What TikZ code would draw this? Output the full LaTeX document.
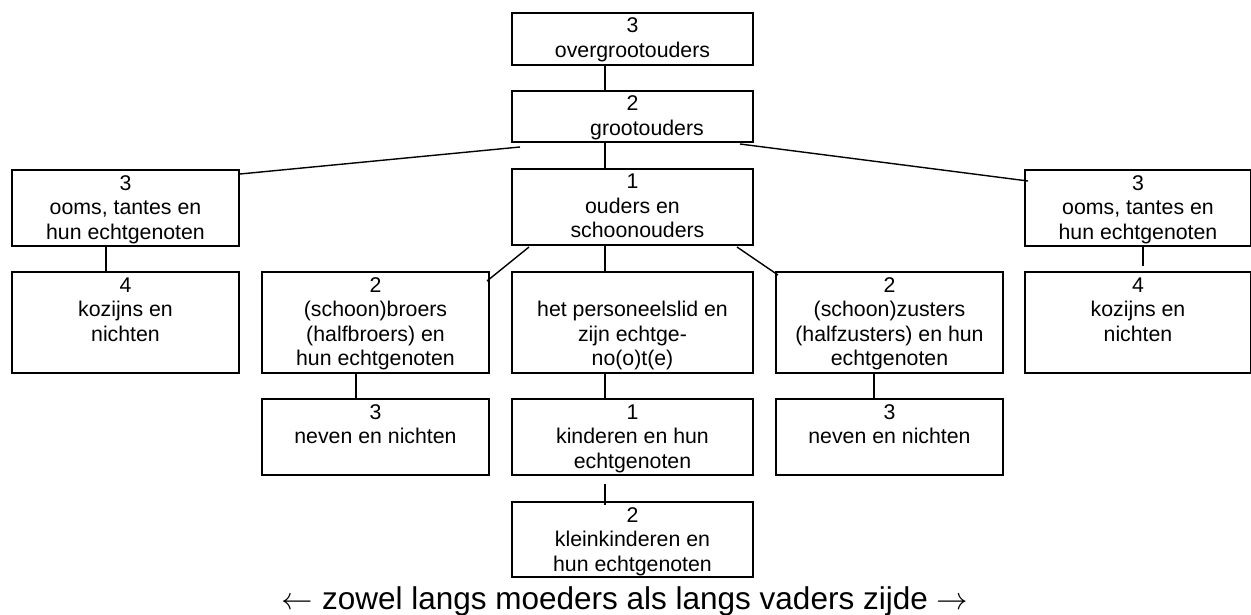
\RequirePackage{fix-cm}
\documentclass[tikz,border=0pt]{standalone}
\usepackage{fontspec}
\setmainfont{Liberation Sans}
\usetikzlibrary{calc}
\newcommand{\bxt}[3]{\parbox[c][#2][t]{#1}{\centering\rule{0pt}{20pt}#3\par}}
\tikzset{
  box/.style={draw, line width=2pt, inner sep=0pt, anchor=north west,
              font=\fontsize{21.3pt}{24.5pt}\selectfont},
  conn/.style={line width=1.4pt}
}
\begin{document}
\begin{tikzpicture}[x=1pt,y=-1pt]
\useasboundingbox (0,0) rectangle (1251,615);
% boxes
\node[box] (over)  at (511,12)  {\bxt{241pt}{52pt}{3\\overgrootouders}};
\node[box] (groot) at (511,90)  {\bxt{241pt}{51pt}{2\\\hspace*{29pt}grootouders}};
\node[box] (ouders) at (511,168) {\bxt{241pt}{76pt}{1\\ouders en\\\hspace*{10pt}schoonouders}};
\node[box] (oomsL) at (11,169)   {\bxt{227pt}{76pt}{3\\ooms, tantes en\\hun echtgenoten}};
\node[box] (oomsR) at (1024,169) {\bxt{226pt}{76pt}{3\\ooms, tantes en\\hun echtgenoten}};
\node[box] (kozL) at (11,271)    {\bxt{227pt}{101pt}{4\\kozijns en\\nichten}};
\node[box] (kozR) at (1024,271)  {\bxt{226pt}{101pt}{4\\kozijns en\\nichten}};
\node[box] (broers) at (261,271) {\bxt{227pt}{101pt}{2\\(schoon)broers\\(halfbroers) en\\hun echtgenoten}};
\node[box] (pers) at (511,271)   {\bxt{241pt}{101pt}{\mbox{}\\het personeelslid en\\zijn echtge-\\no(o)t(e)}};
\node[box] (zus) at (775,271)    {\bxt{227pt}{101pt}{2\\(schoon)zusters\\(halfzusters) en hun\\echtgenoten}};
\node[box] (nevL) at (261,398)   {\bxt{227pt}{76pt}{3\\neven en nichten}};
\node[box] (kind) at (511,398)   {\bxt{241pt}{76pt}{1\\kinderen en hun\\echtgenoten}};
\node[box] (nevR) at (775,398)   {\bxt{227pt}{76pt}{3\\neven en nichten}};
\node[box] (klein) at (511,501)  {\bxt{241pt}{75pt}{2\\kleinkinderen en\\hun echtgenoten}};
\node[anchor=base, inner sep=0pt, font=\fontsize{31.5pt}{36pt}\selectfont] (zijde) at (625,609)
  {$\leftarrow$ zowel langs moeders als langs vaders zijde $\rightarrow$};
% connector x positions
\coordinate (cx) at (605,0);
\coordinate (lx) at (106,0);
\coordinate (rx) at (1143,0);
\coordinate (bx) at (356,0);
\coordinate (zx) at (874,0);
% connectors
\draw[conn] (over.south -| cx) -- (groot.north -| cx);
\draw[conn] (groot.south -| cx) -- (ouders.north -| cx);
\draw[conn] ($(groot.south west)+(9,4)$) -- ($(oomsL.north east)+(0,5)$);
\draw[conn] ($(groot.south east)+(-14,1)$) -- ($(oomsR.north west)+(4,12)$);
\draw[conn] (oomsL.south -| lx) -- (kozL.north -| lx);
\draw[conn] (oomsR.south -| rx) -- ($(kozR.north -| rx)+(0,-5)$);
\draw[conn] ($(ouders.south west)+(18,1)$) -- ($(broers.north east)+(-3,10)$);
\draw[conn] (ouders.south -| cx) -- (pers.north -| cx);
\draw[conn] ($(ouders.south east)+(-17,1)$) -- ($(zus.north west)+(3,4)$);
\draw[conn] (broers.south -| bx) -- (nevL.north -| bx);
\draw[conn] (pers.south -| cx) -- (kind.north -| cx);
\draw[conn] (zus.south -| zx) -- (nevR.north -| zx);
\draw[conn] ($(kind.south -| cx)+(0,8)$) -- ($(klein.north -| cx)+(0,4)$);
\end{tikzpicture}
\end{document}
